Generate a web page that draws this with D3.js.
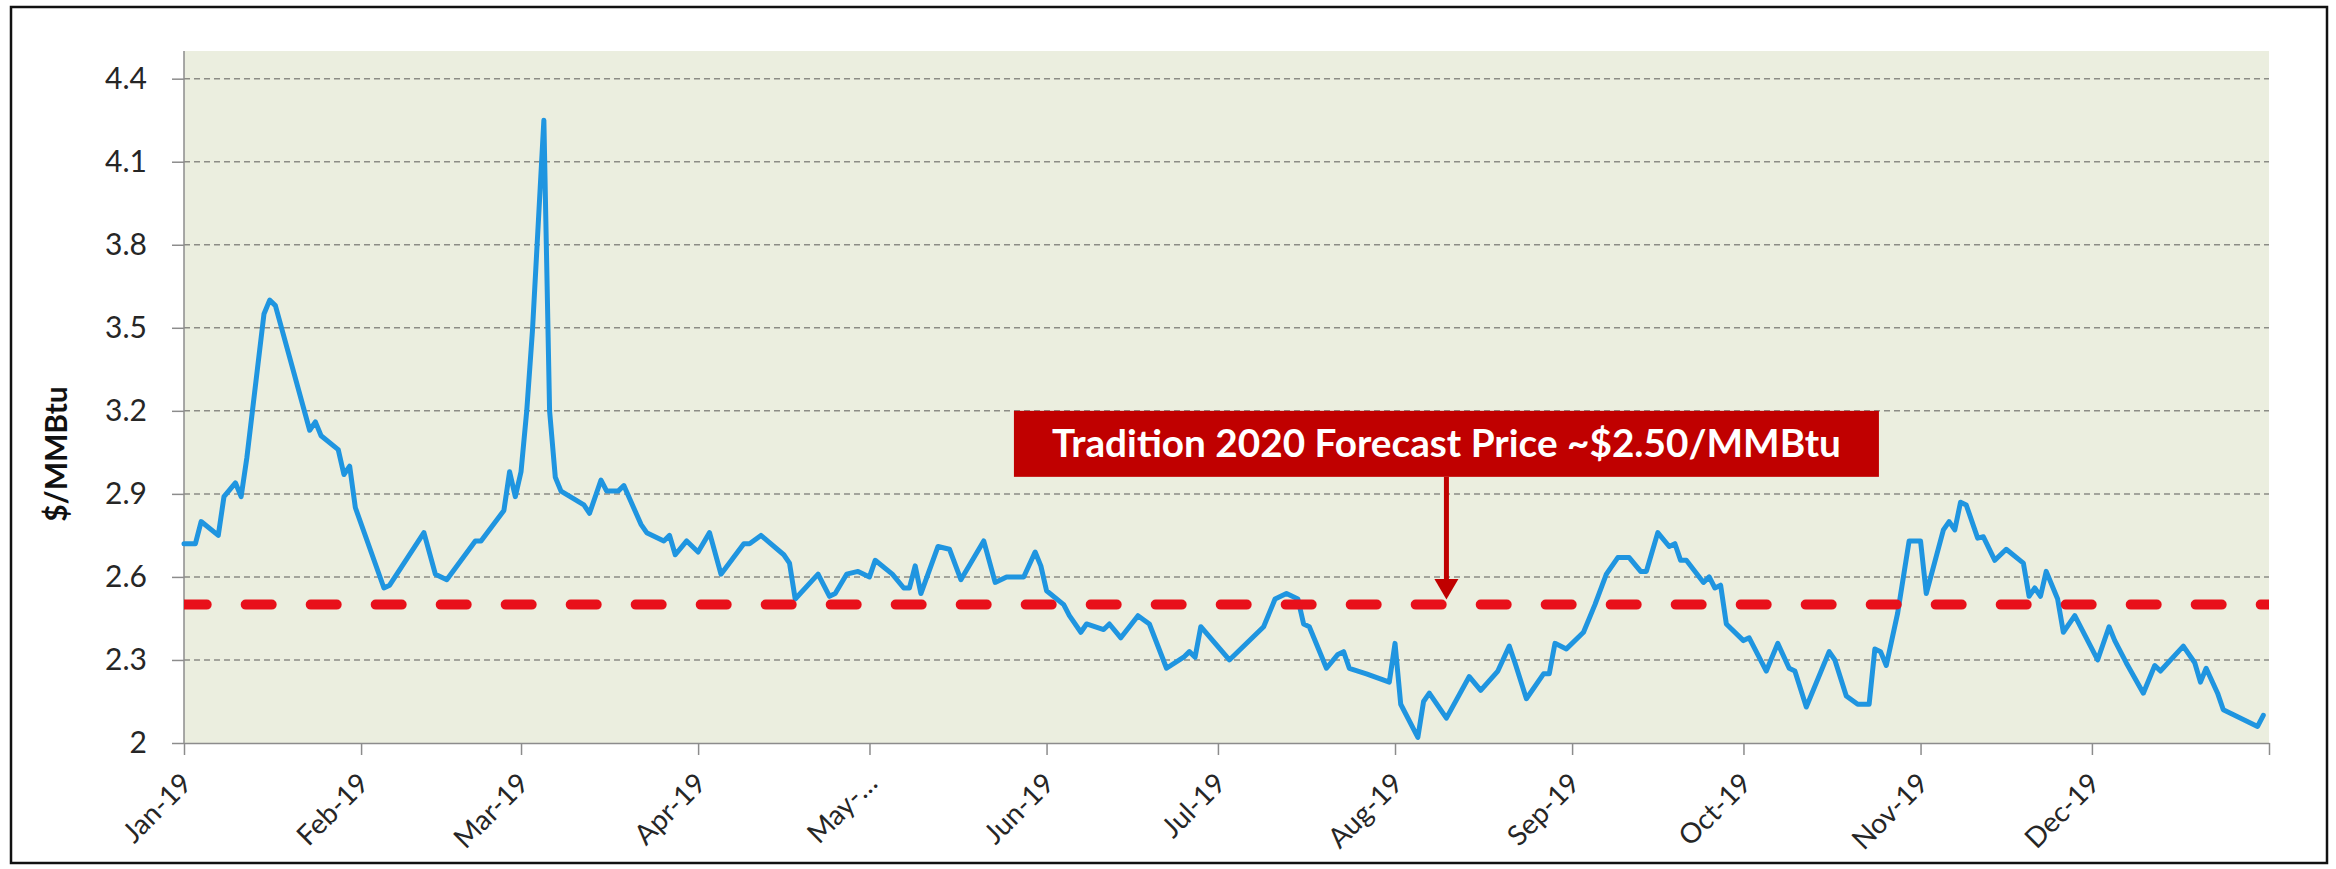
<!DOCTYPE html>
<html><head><meta charset="utf-8">
<script src="https://cdn.jsdelivr.net/npm/d3@7"></script>
<style>html,body{margin:0;padding:0;background:#fff;} svg{display:block}</style>
</head><body>
<svg id="c" width="2336" height="869"></svg>
<script>
// ---- data ----
const dates = [
"2019-01-01","2019-01-03","2019-01-04","2019-01-07","2019-01-08","2019-01-10","2019-01-11","2019-01-12",
"2019-01-15","2019-01-16","2019-01-17","2019-01-19","2019-01-23","2019-01-24","2019-01-25","2019-01-28",
"2019-01-29","2019-01-30","2019-01-31","2019-02-05","2019-02-06","2019-02-12","2019-02-14","2019-02-16",
"2019-02-21","2019-02-22","2019-02-26","2019-02-27","2019-02-28","2019-03-01","2019-03-02","2019-03-03",
"2019-03-05","2019-03-06","2019-03-07","2019-03-08","2019-03-12","2019-03-13","2019-03-15","2019-03-16",
"2019-03-18","2019-03-19","2019-03-22","2019-03-23","2019-03-26","2019-03-27","2019-03-28","2019-03-30",
"2019-04-01","2019-04-03","2019-04-05","2019-04-09","2019-04-10","2019-04-12","2019-04-16","2019-04-17",
"2019-04-18","2019-04-22","2019-04-24","2019-04-25","2019-04-27","2019-04-29","2019-05-01","2019-05-02",
"2019-05-05","2019-05-07","2019-05-08","2019-05-09","2019-05-10","2019-05-13","2019-05-15","2019-05-17",
"2019-05-21","2019-05-23","2019-05-25","2019-05-28","2019-05-30","2019-05-31","2019-06-01","2019-06-04",
"2019-06-05","2019-06-07","2019-06-08","2019-06-11","2019-06-12","2019-06-14","2019-06-17","2019-06-19",
"2019-06-22","2019-06-25","2019-06-26","2019-06-27","2019-06-28","2019-07-03","2019-07-09","2019-07-11",
"2019-07-13","2019-07-15","2019-07-16","2019-07-17","2019-07-20","2019-07-22","2019-07-23","2019-07-24",
"2019-07-27","2019-07-31","2019-08-01","2019-08-02","2019-08-05","2019-08-06","2019-08-07","2019-08-10",
"2019-08-14","2019-08-16","2019-08-19","2019-08-21","2019-08-22","2019-08-24","2019-08-27","2019-08-28",
"2019-08-29","2019-08-31","2019-09-03","2019-09-05","2019-09-07","2019-09-09","2019-09-11","2019-09-13",
"2019-09-14","2019-09-16","2019-09-18","2019-09-19","2019-09-20","2019-09-21","2019-09-24","2019-09-25",
"2019-09-26","2019-09-27","2019-09-28","2019-10-01","2019-10-02","2019-10-05","2019-10-07","2019-10-09",
"2019-10-10","2019-10-12","2019-10-16","2019-10-17","2019-10-19","2019-10-21","2019-10-23","2019-10-24",
"2019-10-25","2019-10-26","2019-10-28","2019-10-30","2019-11-01","2019-11-02","2019-11-05","2019-11-06",
"2019-11-07","2019-11-08","2019-11-09","2019-11-11","2019-11-12","2019-11-14","2019-11-16","2019-11-19",
"2019-11-20","2019-11-21","2019-11-22","2019-11-23","2019-11-25","2019-11-26","2019-11-28","2019-12-02",
"2019-12-04","2019-12-05","2019-12-07","2019-12-10","2019-12-12","2019-12-13","2019-12-17","2019-12-19",
"2019-12-20","2019-12-21","2019-12-23","2019-12-24","2019-12-30","2019-12-31"
];
const prices = [
2.72,2.72,2.80,2.75,2.89,2.94,2.89,3.03,
3.55,3.60,3.58,3.43,3.13,3.16,3.11,3.06,
2.97,3.00,2.85,2.56,2.57,2.76,2.61,2.59,
2.73,2.73,2.84,2.98,2.89,2.98,3.20,3.49,
4.25,3.20,2.96,2.91,2.86,2.83,2.95,2.91,
2.91,2.93,2.79,2.76,2.73,2.75,2.68,2.73,
2.69,2.76,2.61,2.72,2.72,2.75,2.68,2.65,
2.52,2.61,2.53,2.54,2.61,2.62,2.60,2.66,
2.61,2.56,2.56,2.64,2.54,2.71,2.70,2.59,
2.73,2.58,2.60,2.60,2.69,2.64,2.55,2.50,
2.46,2.40,2.43,2.41,2.43,2.38,2.46,2.43,
2.27,2.31,2.33,2.31,2.42,2.30,2.42,2.52,
2.54,2.52,2.43,2.42,2.27,2.32,2.33,2.27,
2.25,2.22,2.36,2.14,2.02,2.15,2.18,2.09,
2.24,2.19,2.26,2.35,2.29,2.16,2.25,2.25,
2.36,2.34,2.40,2.50,2.61,2.67,2.67,2.62,
2.62,2.76,2.71,2.72,2.66,2.66,2.58,2.60,
2.56,2.57,2.43,2.37,2.38,2.26,2.36,2.27,
2.26,2.13,2.33,2.30,2.17,2.14,2.14,2.34,
2.33,2.28,2.47,2.73,2.73,2.54,2.77,2.80,
2.77,2.87,2.86,2.74,2.745,2.66,2.70,2.65,
2.53,2.56,2.53,2.62,2.52,2.40,2.46,2.30,
2.42,2.37,2.29,2.18,2.28,2.26,2.35,2.29,
2.22,2.27,2.18,2.12,2.06,2.10
];
const forecastPrice = 2.5;
const yTicks = [2, 2.3, 2.6, 2.9, 3.2, 3.5, 3.8, 4.1, 4.4];
const yTickLabels = ["2","2.3","2.6","2.9","3.2","3.5","3.8","4.1","4.4"];
const monthTicks = ["2019-01-01","2019-02-01","2019-03-01","2019-04-01","2019-05-01","2019-06-01",
  "2019-07-01","2019-08-01","2019-09-01","2019-10-01","2019-11-01","2019-12-01","2020-01-01"];
const monthLabels = ["Jan-19","Feb-19","Mar-19","Apr-19","May-\u2026","Jun-19","Jul-19","Aug-19",
  "Sep-19","Oct-19","Nov-19","Dec-19",""];
const yAxisTitle = "$/MMBtu";
const annotationText = "Tradition 2020 Forecast Price ~$2.50/MMBtu";
const annotationDate = "2019-08-10";

// ---- drawing ----
const parse = d3.timeParse("%Y-%m-%d");
const series = dates.map((d, i) => ({date: parse(d), value: prices[i]}));
const W = 2336, H = 869;
const L = 184, R = 2269, T = 51, B = 743;
const FONT = "Lato, 'Open Sans', sans-serif";

const svg = d3.select("#c");
svg.append("rect").attr("x", 0).attr("y", 0).attr("width", W).attr("height", H).attr("fill", "#fff");
svg.append("rect").attr("x", 11).attr("y", 7).attr("width", 2316).attr("height", 856)
  .attr("fill", "none").attr("stroke", "#111").attr("stroke-width", 2.5);

const x = d3.scaleTime().domain([parse("2019-01-01"), parse("2020-01-01")]).range([L, R]);
const y = d3.scaleLinear().domain([2, 4.5]).range([B, T]);

svg.append("rect").attr("x", L).attr("y", T).attr("width", R - L).attr("height", B - T)
  .attr("fill", "#EBEEDF");

// gridlines
svg.append("g").selectAll("line").data(yTicks.filter(v => v > 2)).join("line")
  .attr("x1", L).attr("x2", R).attr("y1", d => y(d)).attr("y2", d => y(d))
  .attr("stroke", "#8c8c86").attr("stroke-width", 1.5).attr("stroke-dasharray", "6 4");

// y axis
const yAxis = svg.append("g").attr("transform", `translate(${L},0)`)
  .call(d3.axisLeft(y).tickValues(yTicks).tickSize(12).tickSizeOuter(0).tickPadding(25)
    .tickFormat((d, i) => yTickLabels[i]));
yAxis.select(".domain").attr("stroke", "#8c8c8c").attr("stroke-width", 1.5).attr("d", `M0,${T}V${B}`);
yAxis.selectAll(".tick line").attr("stroke", "#8c8c8c").attr("stroke-width", 1.5);
yAxis.selectAll(".tick text").attr("fill", "#262626").style("font-family", FONT).style("font-size", "30px");

// x axis
const xAxis = svg.append("g").attr("transform", `translate(0,${B})`)
  .call(d3.axisBottom(x).tickValues(monthTicks.map(parse)).tickSize(12).tickSizeOuter(0)
    .tickFormat((d, i) => monthLabels[i]));
xAxis.select(".domain").attr("stroke", "#8c8c8c").attr("stroke-width", 1.5);
xAxis.selectAll(".tick line").attr("stroke", "#8c8c8c").attr("stroke-width", 1.5);
xAxis.selectAll(".tick text").attr("fill", "#262626").style("font-family", FONT).style("font-size", "28px")
  .attr("text-anchor", "end").attr("x", 0).attr("y", 0).attr("dy", 0)
  .attr("transform", "translate(9,42) rotate(-45)");

// y title
svg.append("text").attr("transform", "translate(67,454) rotate(-90)")
  .attr("text-anchor", "middle").attr("fill", "#111")
  .style("font-family", FONT).style("font-weight", "bold").style("font-size", "30px")
  .text(yAxisTitle);

// price line
const clip = svg.append("clipPath").attr("id", "pc").append("rect")
  .attr("x", L).attr("y", T - 10).attr("width", R - L).attr("height", B - T + 10);
svg.append("path").datum(series)
  .attr("fill", "none").attr("stroke", "#1F95E0").attr("stroke-width", 5)
  .attr("stroke-linejoin", "round").attr("stroke-linecap", "round")
  .attr("d", d3.line().x(d => x(d.date)).y(d => y(d.value)));

// forecast line
svg.append("g").attr("clip-path", "url(#pc)").append("line")
  .attr("x1", L).attr("x2", R).attr("y1", y(forecastPrice)).attr("y2", y(forecastPrice))
  .attr("stroke", "#E8101A").attr("stroke-width", 10).attr("stroke-linecap", "round")
  .attr("stroke-dasharray", "26 39").attr("stroke-dashoffset", 3.3);

// annotation
const ax = x(parse(annotationDate));
const boxTop = y(3.2), boxH = 66, boxW = 865;
svg.append("rect").attr("x", ax - boxW / 2).attr("y", boxTop).attr("width", boxW).attr("height", boxH)
  .attr("fill", "#C00000");
const at = svg.append("text").attr("x", ax).attr("y", boxTop + boxH / 2 + 13)
  .attr("text-anchor", "middle").attr("fill", "#fff")
  .style("font-family", FONT).style("font-weight", "bold").style("font-size", "36px")
  .text(annotationText);
const tl = at.node().getComputedTextLength();
at.style("font-size", (36 * 789 / tl).toFixed(2) + "px");
svg.append("line").attr("x1", ax).attr("x2", ax).attr("y1", boxTop + boxH).attr("y2", 582)
  .attr("stroke", "#C00000").attr("stroke-width", 5);
svg.append("path").attr("d", `M${ax - 12},579L${ax + 12},579L${ax},${y(forecastPrice) - 5}Z`)
  .attr("fill", "#C00000");
</script>
</body></html>
